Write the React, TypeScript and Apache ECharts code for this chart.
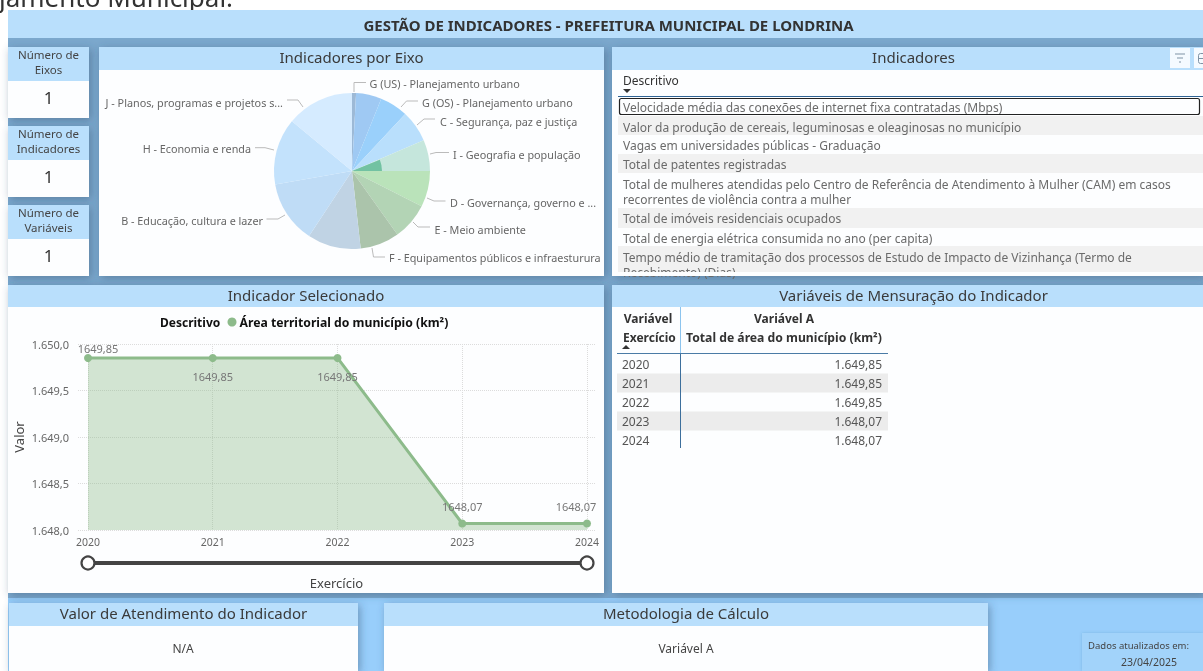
import React, { useEffect, useRef } from "react";
import * as echarts from "echarts";

const pieNames = ["G (US) - Planejamento urbano", "", "G (OS) - Planejamento urbano", "C - Segurança, paz e justiça", "I - Geografia e população", "D - Governança, governo e ...", "E - Meio ambiente", "F - Equipamentos públicos e infraesturura", "", "B - Educação, cultura e lazer", "H - Economia e renda", "J - Planos, programas e projetos s..."];
const pieValues = [3, 19, 21, 23.7, 23.3, 26.8, 27.6, 29.2, 39.8, 46.6, 49.6, 50.4];
const pieColors = ["#9DB9D6", "#9FC9F3", "#9AD0FB", "#B9DFFC", "#C5E6DC", "#BAE3BA", "#B3D4B5", "#ABC4AB", "#C0D3E4", "#BFDCF6", "#C3E2FC", "#D5EBFF"];
const innerValues = [68, 22, 270];

const years = [2020, 2021, 2022, 2023, 2024];
const areaValues = [1649.85, 1649.85, 1649.85, 1648.07, 1648.07];
const tableValues = ["1.649,85", "1.649,85", "1.649,85", "1.648,07", "1.648,07"];
const indicatorRows = [
  "Velocidade média das conexões de internet fixa contratadas (Mbps)",
  "Valor da produção de cereais, leguminosas e oleaginosas no município",
  "Vagas em universidades públicas - Graduação",
  "Total de patentes registradas",
  "Total de mulheres atendidas pelo Centro de Referência de Atendimento à Mulher (CAM) em casos\nrecorrentes de violência contra a mulher",
  "Total de imóveis residenciais ocupados",
  "Total de energia elétrica consumida no ano (per capita)",
  "Tempo médio de tramitação dos processos de Estudo de Impacto de Vizinhança (Termo de\nRecebimento) (Dias)",
];
const seriesName = "Área territorial do município (km²)";

const FONT = "'Noto Sans', sans-serif";
const HEAD = "#B9DFFC";

// label placement for the pie: text anchor and leader-line points
const pieLabelPlace: any[] = [
  { x: 369.5, y: 83, align: "left", line: [[354, 92], [354, 82.5], [366, 82.5]] },
  null,
  { x: 422, y: 102.5, align: "left", line: [[401, 107], [406.5, 101], [418, 101]] },
  { x: 440, y: 121, align: "left", line: [[417, 125], [424, 119], [435, 119]] },
  { x: 453, y: 154, align: "left", line: [[430, 154], [436, 152.5], [449, 152.5]] },
  { x: 450, y: 202, align: "left", line: [[427, 198], [434, 201], [445.5, 201]] },
  { x: 434.5, y: 229, align: "left", line: [[413, 222], [418, 227], [430, 227]] },
  { x: 389, y: 257, align: "left", line: [[372, 248], [373.5, 257], [385, 257]] },
  null,
  { x: 263, y: 220, align: "right", line: [[285, 215], [278, 219], [266.5, 219]] },
  { x: 251, y: 148.5, align: "right", line: [[274, 150], [265, 147.7], [255, 147.7]] },
  { x: 283, y: 102, align: "right", line: [[303, 107], [298, 100], [287, 100]] },
];

const rect = (x: number, y: number, w: number, h: number, fill: string, extra: any = {}) => ({
  type: "rect", z: -1, silent: true, shape: { x, y, width: w, height: h }, style: { fill, ...extra },
});
const text = (t: string, x: number, y: number, size: number, fill: string, align = "left", weight = "normal", extra: any = {}) => ({
  type: "text", z: -1, silent: true, x, y,
  style: { text: t, fill, fontSize: size, fontFamily: FONT, fontWeight: weight, align, verticalAlign: "middle", ...extra },
});
const seg = (x1: number, y1: number, x2: number, y2: number, stroke: string, lineWidth = 1) => ({
  type: "line", z: -1, silent: true, shape: { x1, y1, x2, y2 }, style: { stroke, lineWidth },
});
const shadow = { shadowBlur: 8, shadowColor: "rgba(50,80,110,0.45)", shadowOffsetX: 2, shadowOffsetY: 2 };

function panel(x: number, y: number, w: number, h: number, headH: number, title: string, titleShift = 0) {
  return [
    rect(x, y, w, h, "#FDFEFF", shadow),
    rect(x, y, w, headH, HEAD),
    text(title, x + w / 2 + titleShift, y + headH / 2 - 1.5, 15, "#3A3A3A", "center"),
  ];
}

function card(y: number, l1: string, l2: string) {
  return [
    rect(8, y, 81, 71, "#FDFEFF", shadow),
    rect(8, y, 81, 34, HEAD),
    text(l1, 48.5, y + 7.5, 11.5, "#444", "center"),
    text(l2, 48.5, y + 22, 11.5, "#444", "center"),
    text("1", 48.5, y + 50, 17, "#333", "center"),
  ];
}

const rowTops = [98, 116, 135, 154, 173, 208, 228, 246];
const rowHeights = [16, 19, 18, 19, 35, 20, 18, 26];
const rowText = [107, 127, 145, 164, 184, 218, 238, 257];

function buildGraphics() {
  const els: any[] = [];
  els.push(rect(0, 0, 1203, 671, "#FFFFFF"));
  els.push(text("jamento Municipal.", -1, -3, 26, "#333"));
  els.push(rect(8, 10, 1195, 661, "#98CEFB"));
  els.push(rect(8, 38, 1195, 560, "#7BA8CD"));
  els.push(rect(8, 10, 1195, 28, HEAD));
  els.push(text("GESTÃO DE INDICADORES - PREFEITURA MUNICIPAL DE LONDRINA", 608.5, 25, 15, "#333", "center", "bold"));
  els.push(...card(47, "Número de", "Eixos"), ...card(126, "Número de", "Indicadores"), ...card(205, "Número de", "Variáveis"));
  els.push(...panel(99, 47, 505, 229, 23, "Indicadores por Eixo"));
  els.push(...panel(612, 47, 591, 229, 23, "Indicadores", 6));
  els.push(...panel(8, 285, 596, 308, 22, "Indicador Selecionado"));
  els.push(...panel(612, 285, 591, 308, 22, "Variáveis de Mensuração do Indicador", 6));
  els.push(...panel(9, 603, 349, 68, 23, "Valor de Atendimento do Indicador"));
  els.push(...panel(384, 603, 604, 68, 23, "Metodologia de Cálculo"));
  els.push(text("N/A", 183, 648, 12, "#444", "center"), text("Variável A", 686, 648, 12, "#444", "center"));
  els.push(rect(1082, 633, 121, 38, "#A2D3FA", { shadowBlur: 3, shadowColor: "rgba(50,80,110,0.18)" }));
  els.push(text("Dados atualizados em:", 1138.5, 645, 9.5, "#444", "center"), text("23/04/2025", 1149, 662, 10.5, "#444", "center"));

  // filter icons
  els.push(rect(1170, 48, 20, 20, "#F4FAFF"), rect(1194, 48, 9, 20, "#F4FAFF"));
  els.push(seg(1175, 54, 1185, 54, "#7F93A5"), seg(1177, 58, 1183, 58, "#7F93A5"), seg(1179, 62, 1181, 62, "#7F93A5"));
  els.push({ type: "rect", z: -1, silent: true, shape: { x: 1198.5, y: 53.5, width: 10, height: 10, r: 2 }, style: { fill: "none", stroke: "#7F93A5" } });
  els.push(seg(1198.5, 58.5, 1203, 58.5, "#7F93A5"));

  // indicator list
  els.push(text("Descritivo", 623, 80, 12, "#333"));
  els.push({ type: "polygon", z: -1, silent: true, shape: { points: [[623, 89], [631, 89], [627, 93]] }, style: { fill: "#333" } });
  els.push(seg(618, 96.5, 1203, 96.5, "#2F6394", 1));
  indicatorRows.forEach((r, i) => {
    if (i % 2 === 1) els.push(rect(618, rowTops[i], 585, rowHeights[i], "#F1F1F1"));
    const lines = r.split("\n");
    lines.forEach((l, j) => els.push(text(l, 623, rowText[i] + j * 15.5, 12, "#6A6A6A")));
  });
  els.push({ type: "rect", z: -1, silent: true, shape: { x: 619.5, y: 98.5, width: 580, height: 16, r: 2 }, style: { fill: "none", stroke: "#222", lineWidth: 1.2 } });
  els.push(rect(612, 272, 591, 4, "#FDFEFF"));

  // variable table
  years.forEach((y, i) => {
    const cy = 364 + i * 19;
    if (i % 2 === 1) els.push(rect(617, cy - 9.5, 271, 19, "#ECECEC"));
    els.push(text(String(y), 622, cy, 12, "#555"), text(tableValues[i], 882, cy, 12, "#555", "right"));
  });
  els.push(seg(680.5, 307, 680.5, 353, "#8CC4EE"), seg(680.5, 353, 680.5, 448, "#3D6F9C"));
  els.push(seg(617, 353.5, 888, 353.5, "#4A7BA6", 1.2));
  els.push(text("Variável", 648, 318, 12, "#333", "center", "bold"), text("Variável A", 784, 318, 12, "#333", "center", "bold"));
  els.push(text("Exercício", 623, 337, 12, "#333", "left", "bold"), text("Total de área do município (km²)", 686, 337, 12.2, "#333", "left", "bold"));
  els.push({ type: "polygon", z: -1, silent: true, shape: { points: [[622, 349], [630, 349], [626, 345]] }, style: { fill: "#333" } });

  // line chart legend title + slider
  els.push(text("Descritivo", 160, 322, 12, "#111", "left", "bold"));
  els.push({ type: "line", z: 3, silent: true, shape: { x1: 88, y1: 563, x2: 587, y2: 563 }, style: { stroke: "#444", lineWidth: 4 } });
  [88, 587].forEach((cx) => els.push({ type: "circle", z: 4, silent: true, shape: { cx, cy: 563, r: 6.5 }, style: { fill: "#fff", stroke: "#444", lineWidth: 2.2 } }));
  return els;
}

const labelPlace: any[] = [
  { position: "top", offset: [10, 5] },
  { position: "bottom", offset: [0, 4] },
  { position: "bottom", offset: [0, 4] },
  { position: "top", offset: [0, -2] },
  { position: "top", offset: [-11, -2] },
];

export default function App() {
  const ref = useRef<HTMLDivElement>(null);
  useEffect(() => {
    const chart = echarts.init(ref.current!, undefined, { renderer: "svg" });
    chart.setOption({
      animation: false,
      textStyle: { fontFamily: FONT },
      graphic: { elements: buildGraphics() },
      legend: {
        left: 222.5, top: 311, icon: "circle", itemWidth: 9, itemHeight: 9, itemGap: 4,
        data: [seriesName],
        textStyle: { fontSize: 12.2, fontWeight: "bold", color: "#111", fontFamily: FONT, padding: [0, 0, 0, -2] },
      },
      grid: { left: 78, right: 608, top: 344, height: 186 },
      xAxis: {
        type: "value", min: 2019.92, max: 2024.064,
        name: "Exercício", nameLocation: "middle", nameGap: 46,
        nameTextStyle: { fontSize: 13, color: "#444" },
        axisLine: { show: false }, axisTick: { show: false, customValues: years },
        axisLabel: { customValues: years, formatter: (v: number) => String(Math.round(v)), color: "#666", fontSize: 10.5, margin: 6, hideOverlap: false },
        splitLine: { show: true, lineStyle: { type: "dotted", color: "#DCDCDC" } },
      },
      yAxis: {
        type: "value", min: 1648, max: 1650, interval: 0.5,
        name: "Valor", nameLocation: "middle", nameGap: 53,
        nameTextStyle: { fontSize: 13, color: "#444" },
        axisLine: { show: false }, axisTick: { show: false },
        axisLabel: {
          color: "#666", fontSize: 11, margin: 9,
          formatter: (v: number) => v.toFixed(1).replace(".", ",").replace(/^1/, "1."),
        },
        splitLine: { show: true, lineStyle: { type: "dotted", color: "#DCDCDC" } },
      },
      series: [
        {
          type: "line", name: seriesName, z: 2,
          data: years.map((y, i) => ({
            value: [y, areaValues[i]],
            label: { show: true, ...labelPlace[i] },
          })),
          symbol: "circle", symbolSize: 8,
          lineStyle: { color: "#8DBB8B", width: 3 },
          itemStyle: { color: "#8DBB8B" },
          areaStyle: { color: "#8DBB8B", opacity: 0.386 },
          label: {
            color: "#777", fontSize: 11,
            formatter: (p: any) => p.value[1].toFixed(2).replace(".", ","),
          },
        },
        {
          type: "pie", radius: 78, center: [352, 171], startAngle: 90, clockwise: true, z: 2,
          data: pieValues.map((v, i) => ({
            name: pieNames[i] || "s" + i, value: v,
            itemStyle: { color: pieColors[i] },
            label: { show: !!pieNames[i] }, labelLine: { show: !!pieNames[i] },
          })),
          label: { color: "#666", fontSize: 10.8, fontFamily: FONT, overflow: "none" },
          labelLine: { length: 10, length2: 12, lineStyle: { color: "#BBB", width: 1 } },
          labelLayout: (p: any) => {
            const place = pieLabelPlace[p.dataIndex];
            if (!place) return {};
            return { x: place.x, y: place.y, align: place.align, verticalAlign: "middle", labelLinePoints: place.line };
          },
          avoidLabelOverlap: false, minShowLabelAngle: 0,
          emphasis: { disabled: true },
        },
        {
          type: "pie", radius: 30, center: [352, 171], startAngle: 90, clockwise: true, z: 3, silent: true,
          label: { show: false }, labelLine: { show: false },
          data: innerValues.map((v, i) => ({
            name: "i" + i, value: v,
            itemStyle: { color: i === 1 ? "#72C2A2" : "transparent" },
          })),
        },
      ],
    });
    return () => chart.dispose();
  }, []);
  return <div ref={ref} style={{ position: "fixed", left: 0, top: 0, width: 1203, height: 671 }} />;
}
